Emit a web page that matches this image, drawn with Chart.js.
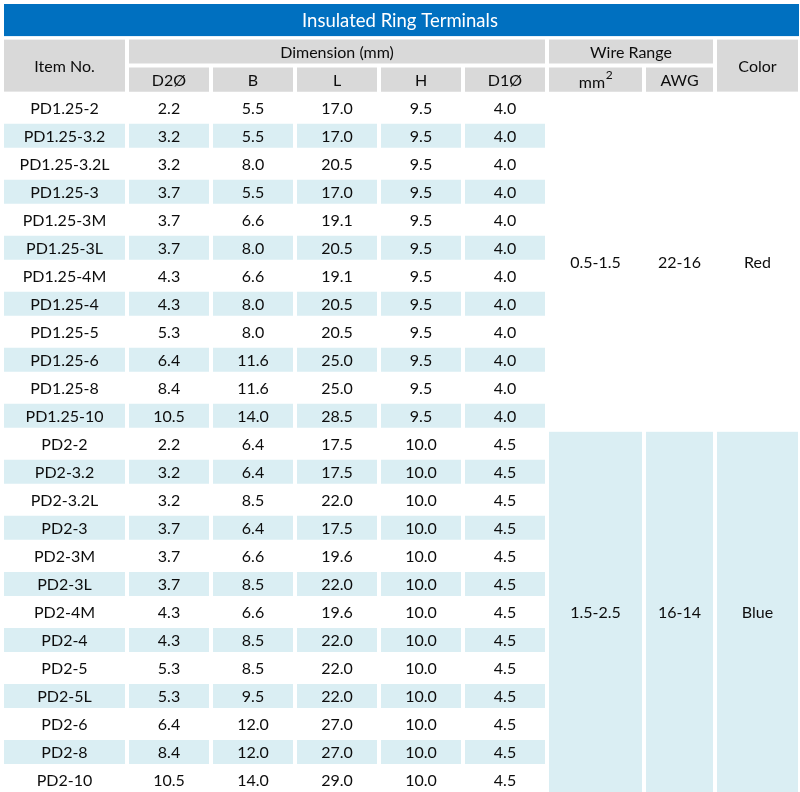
<!DOCTYPE html>
<html>
<head>
<meta charset="utf-8">
<title>Insulated Ring Terminals</title>
<script src="https://cdn.jsdelivr.net/npm/chart.js@4.4.1/dist/chart.umd.min.js"></script>
<style>
    html, body { margin: 0; padding: 0; background: #ffffff; overflow: hidden; }
    #table { display: block; }
</style>
</head>
<body>
<canvas id="table" width="800" height="794"></canvas>
<script>
// ---- table data ----
const items = ['PD1.25-2', 'PD1.25-3.2', 'PD1.25-3.2L', 'PD1.25-3', 'PD1.25-3M', 'PD1.25-3L', 'PD1.25-4M',
    'PD1.25-4', 'PD1.25-5', 'PD1.25-6', 'PD1.25-8', 'PD1.25-10',
    'PD2-2', 'PD2-3.2', 'PD2-3.2L', 'PD2-3', 'PD2-3M', 'PD2-3L', 'PD2-4M', 'PD2-4', 'PD2-5', 'PD2-5L',
    'PD2-6', 'PD2-8', 'PD2-10'];
const d2 = [2.2, 3.2, 3.2, 3.7, 3.7, 3.7, 4.3, 4.3, 5.3, 6.4, 8.4, 10.5,
    2.2, 3.2, 3.2, 3.7, 3.7, 3.7, 4.3, 4.3, 5.3, 5.3, 6.4, 8.4, 10.5];
const dimB = [5.5, 5.5, 8.0, 5.5, 6.6, 8.0, 6.6, 8.0, 8.0, 11.6, 11.6, 14.0,
    6.4, 6.4, 8.5, 6.4, 6.6, 8.5, 6.6, 8.5, 8.5, 9.5, 12.0, 12.0, 14.0];
const dimL = [17.0, 17.0, 20.5, 17.0, 19.1, 20.5, 19.1, 20.5, 20.5, 25.0, 25.0, 28.5,
    17.5, 17.5, 22.0, 17.5, 19.6, 22.0, 19.6, 22.0, 22.0, 22.0, 27.0, 27.0, 29.0];
const dimH = [9.5, 9.5, 9.5, 9.5, 9.5, 9.5, 9.5, 9.5, 9.5, 9.5, 9.5, 9.5,
    10.0, 10.0, 10.0, 10.0, 10.0, 10.0, 10.0, 10.0, 10.0, 10.0, 10.0, 10.0, 10.0];
const d1 = [4.0, 4.0, 4.0, 4.0, 4.0, 4.0, 4.0, 4.0, 4.0, 4.0, 4.0, 4.0,
    4.5, 4.5, 4.5, 4.5, 4.5, 4.5, 4.5, 4.5, 4.5, 4.5, 4.5, 4.5, 4.5];

// wire range groups (merged cells)
const groupFirst = [0, 12];
const groupLast = [11, 24];
const wireMm2 = ['0.5-1.5', '1.5-2.5'];
const wireAwg = ['22-16', '16-14'];
const colorNames = ['Red', 'Blue'];
const groupShaded = [false, true];

const titleText = 'Insulated Ring Terminals';
const subHeaders = ['D2Ø', 'B', 'L', 'H', 'D1Ø', 'mm2', 'AWG'];

// ---- layout ----
const colWidths = [121, 80, 80, 80, 80, 80, 93, 67, 81];
const colGap = 4;
const tableLeft = 4;
const colEdges = [];
let cursor = tableLeft;
colWidths.forEach(w => {
    colEdges.push([cursor, cursor + w]);
    cursor += w + colGap;
});

const COLORS = {
    title: '#0070C0',
    header: '#D9D9D9',
    shade: '#DAEEF3',
    text: '#0d0d0d'
};
const FONT = "Lato, 'Open Sans', sans-serif";
const TEXT_DY = 1;

// y categories: two header rows + one row per item
const rowLabels = ['hdr1', 'hdr2'].concat(items);
const HEAD = 2;

const fmt = v => v.toFixed(1);
const dimCols = [d2, dimB, dimL, dimH, d1];

// one floating-bar dataset per column: header cell + alternating shading
const datasets = colEdges.map((edge, c) => {
    const data = rowLabels.map(() => null);
    const bg = rowLabels.map(() => COLORS.shade);
    if (c >= 1 && c <= 7) {
        data[1] = edge;
        bg[1] = COLORS.header;
    }
    if (c <= 5) {
        items.forEach((_, i) => {
            if (i % 2 === 1) data[HEAD + i] = edge;
        });
    }
    return {
        data: data,
        backgroundColor: bg,
        borderWidth: 0,
        borderSkipped: false,
        grouped: false,
        barPercentage: 24 / 28,
        categoryPercentage: 1
    };
});
// spanning header cells in the first header row
datasets.push({
    data: rowLabels.map((_, k) => k === 0 ? [colEdges[1][0], colEdges[5][1]] : null),
    backgroundColor: COLORS.header, borderWidth: 0, borderSkipped: false, grouped: false,
    barPercentage: 24 / 28, categoryPercentage: 1
});
datasets.push({
    data: rowLabels.map((_, k) => k === 0 ? [colEdges[6][0], colEdges[7][1]] : null),
    backgroundColor: COLORS.header, borderWidth: 0, borderSkipped: false, grouped: false,
    barPercentage: 24 / 28, categoryPercentage: 1
});

// helpers working from the chart's scales
function rowSpan(chart, first, last) {
    const y = chart.scales.y;
    const band = y.getPixelForValue(1) - y.getPixelForValue(0);
    const inset = band * (1 - 24 / 28) / 2;
    return [y.getPixelForValue(first) - band / 2 + inset, y.getPixelForValue(last) + band / 2 - inset];
}
function colSpan(chart, c0, c1) {
    const x = chart.scales.x;
    return [x.getPixelForValue(colEdges[c0][0]), x.getPixelForValue(colEdges[c1 === undefined ? c0 : c1][1])];
}

const tablePlugin = {
    id: 'tablePlugin',
    beforeDraw(chart) {
        // blue title band
        const ctx = chart.ctx;
        const tb = chart.titleBlock;
        const [x0, x1] = colSpan(chart, 0, 8);
        ctx.save();
        ctx.fillStyle = COLORS.title;
        ctx.fillRect(x0, tb.top, x1 - x0 + 1, tb.height - 1.5);
        ctx.restore();
    },
    beforeDatasetsDraw(chart) {
        const ctx = chart.ctx;
        ctx.save();
        // merged header cells (Item No., Color)
        [0, 8].forEach(c => {
            const [x0, x1] = colSpan(chart, c);
            const [y0, y1] = rowSpan(chart, 0, 1);
            ctx.fillStyle = COLORS.header;
            ctx.fillRect(x0, y0, x1 - x0, y1 - y0);
        });
        // merged wire range / color cells
        groupFirst.forEach((first, g) => {
            if (!groupShaded[g]) return;
            const [y0, y1] = rowSpan(chart, HEAD + first, HEAD + groupLast[g]);
            [6, 7, 8].forEach(c => {
                const [x0, x1] = colSpan(chart, c);
                ctx.fillStyle = COLORS.shade;
                ctx.fillRect(x0, y0, x1 - x0, y1 - y0);
            });
        });
        ctx.restore();
    },
    afterDatasetsDraw(chart) {
        const ctx = chart.ctx;
        const y = chart.scales.y;
        ctx.save();
        ctx.fillStyle = COLORS.text;
        ctx.font = '16px ' + FONT;
        ctx.textAlign = 'center';
        ctx.textBaseline = 'middle';
        const cx = (c0, c1) => {
            const [a, b] = colSpan(chart, c0, c1);
            return (a + b) / 2;
        };
        const rowY = r => y.getPixelForValue(r) + TEXT_DY;
        const midRow = (r0, r1) => (rowY(r0) + rowY(r1)) / 2;

        // headers
        ctx.fillText('Item No.', cx(0), midRow(0, 1));
        ctx.fillText('Color', cx(8), midRow(0, 1));
        ctx.fillText('Dimension (mm)', cx(1, 5), rowY(0));
        ctx.fillText('Wire Range', cx(6, 7), rowY(0));
        subHeaders.forEach((t, i) => {
            if (t === 'mm2') {
                // mm with a superscript 2
                const wMain = ctx.measureText('mm').width;
                ctx.font = '12px ' + FONT;
                const wSup = ctx.measureText('2').width;
                ctx.font = '16px ' + FONT;
                const left = cx(i + 1) - (wMain + wSup) / 2;
                ctx.textAlign = 'left';
                ctx.fillText('mm', left, rowY(1) + 2);
                ctx.font = '12px ' + FONT;
                ctx.fillText('2', left + wMain + 0.5, rowY(1) - 5);
                ctx.font = '16px ' + FONT;
                ctx.textAlign = 'center';
            } else {
                ctx.fillText(t, cx(i + 1), rowY(1));
            }
        });

        // body rows
        items.forEach((item, i) => {
            const py = rowY(HEAD + i);
            ctx.fillText(item, cx(0), py);
            dimCols.forEach((arr, c) => ctx.fillText(fmt(arr[i]), cx(c + 1), py));
        });

        // merged group cells
        groupFirst.forEach((first, g) => {
            const py = midRow(HEAD + first, HEAD + groupLast[g]);
            ctx.fillText(wireMm2[g], cx(6), py);
            ctx.fillText(wireAwg[g], cx(7), py);
            ctx.fillText(colorNames[g], cx(8), py);
        });
        ctx.restore();
    }
};

new Chart(document.getElementById('table'), {
    type: 'bar',
    data: {
        labels: rowLabels,
        datasets: datasets
    },
    options: {
        indexAxis: 'y',
        responsive: false,
        animation: false,
        devicePixelRatio: 1,
        layout: { padding: { top: 4, left: 0, right: 0, bottom: 0 } },
        scales: {
            x: { type: 'linear', min: 0, max: 800, display: false },
            y: { type: 'category', display: false, offset: true, grid: { display: false } }
        },
        plugins: {
            legend: { display: false },
            tooltip: { enabled: false },
            title: {
                display: true,
                text: titleText,
                color: '#ffffff',
                font: { family: FONT, size: 18.5, weight: 'normal', lineHeight: 1.2 },
                padding: { top: 5.7, bottom: 5.7 }
            }
        }
    },
    plugins: [tablePlugin]
});
</script>
</body>
</html>
